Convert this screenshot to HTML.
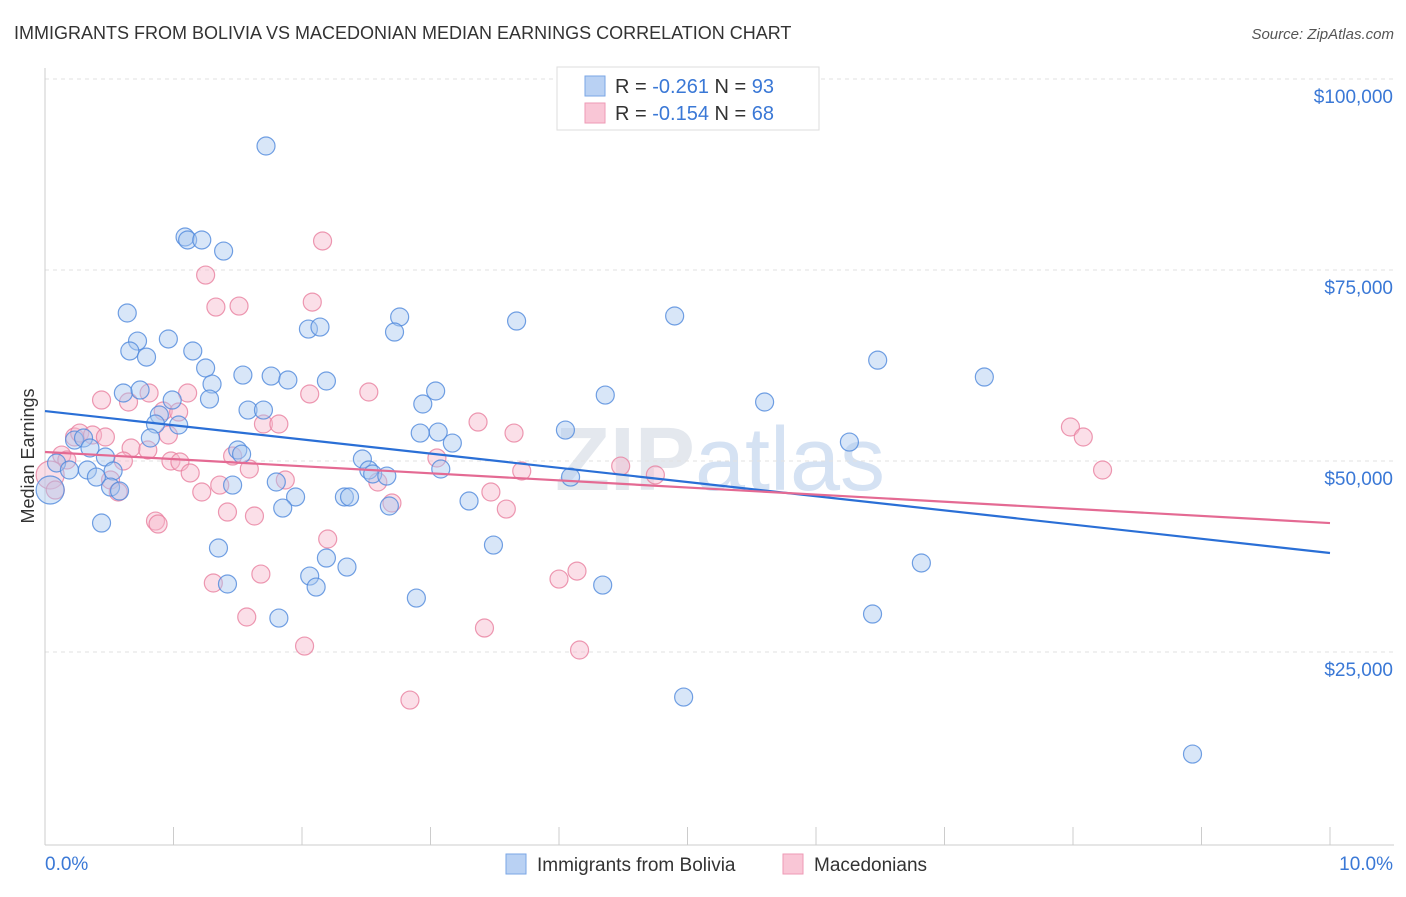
<!DOCTYPE html>
<html><head><meta charset="utf-8"><style>
body{margin:0;background:#fff;font-family:"Liberation Sans",sans-serif;}
svg text{font-family:"Liberation Sans",sans-serif;}
</style></head><body>
<svg id="chart" width="1406" height="892" xmlns="http://www.w3.org/2000/svg">
<text x="14" y="39" font-size="18" fill="#333">IMMIGRANTS FROM BOLIVIA VS MACEDONIAN MEDIAN EARNINGS CORRELATION CHART</text>
<text x="1394" y="39" font-size="15" fill="#555" text-anchor="end" font-style="italic">Source: ZipAtlas.com</text>
<text x="720" y="490" font-size="90" fill="#e4e8ee" text-anchor="middle" font-weight="bold">ZIP<tspan fill="#d5e2f3" font-weight="normal">atlas</tspan></text>
<g id="grid"></g>
<g id="axes"></g>
<g id="pts"></g>
<g id="trend"></g>
<text transform="translate(34,456) rotate(-90)" font-size="18" fill="#333" text-anchor="middle">Median Earnings</text>
<g>
<rect x="557" y="67" width="262" height="63" fill="#fff" stroke="#ddd"/>
<rect x="585" y="76" width="20" height="20" fill="#b9d1f3" stroke="#7aa6e6"/>
<rect x="585" y="103" width="20" height="20" fill="#f9c6d6" stroke="#ee9ab5"/>
<text x="615" y="93" font-size="20" fill="#333">R = <tspan fill="#3a78d6">-0.261</tspan>   N = <tspan fill="#3a78d6">93</tspan></text>
<text x="615" y="120" font-size="20" fill="#333">R = <tspan fill="#3a78d6">-0.154</tspan>   N = <tspan fill="#3a78d6">68</tspan></text>
</g>
<g>
<rect x="506" y="854" width="20" height="20" fill="#b9d1f3" stroke="#7aa6e6"/>
<text x="537" y="871" font-size="19" fill="#333">Immigrants from Bolivia</text>
<rect x="783" y="854" width="20" height="20" fill="#f9c6d6" stroke="#ee9ab5"/>
<text x="814" y="871" font-size="19" fill="#333">Macedonians</text>
</g>
</svg>
<script>
const yTicks=[25000,50000,75000,100000];
const yTickLabels=["$25,000","$50,000","$75,000","$100,000"];
const xTickLabels=["0.0%","10.0%"];
const blueX=[1.72,1.09,1.11,1.22,1.39,0.64,0.72,0.66,0.79,0.96,1.15,1.25,1.30,1.54,1.76,1.89,2.05,2.14,2.19,2.76,2.72,3.67,4.90,6.48,7.31,5.60,4.36,3.04,2.94,0.61,0.74,0.99,1.28,1.58,1.70,0.89,0.86,1.04,0.82,2.92,3.06,3.17,4.05,6.26,0.23,0.30,0.35,0.47,1.50,1.53,2.47,2.52,2.55,2.66,3.08,4.09,0.09,0.19,0.33,0.40,0.53,0.51,0.58,1.46,1.80,1.95,2.33,2.37,2.68,3.30,1.85,0.04,0.44,1.35,2.19,3.49,2.35,2.06,2.11,1.42,4.34,2.89,1.82,6.44,6.82,4.97,8.93];
const blueY=[91230,79320,78930,78930,77480,69370,65700,64400,63600,65970,64400,62170,60070,61250,61120,60600,67270,67530,60470,68850,66880,68320,68980,63200,60990,57720,58630,59160,57460,58900,59290,57980,58110,56670,56670,56020,54840,54710,53010,53660,53790,52350,54050,52480,52740,53010,51700,50520,51440,50900,50260,48820,48300,48030,48950,47900,49740,48820,48820,47900,48690,46590,46070,46850,47250,45290,45290,45290,44110,44760,43840,46200,41880,38610,37300,39000,36120,34940,33500,33900,33760,32060,29440,29970,36650,19100,11640];
const pinkX=[2.16,1.25,1.33,1.51,2.08,0.44,0.65,0.81,1.11,2.06,2.52,0.92,1.04,1.70,1.82,3.37,3.65,7.98,8.08,8.23,0.23,0.27,0.37,0.47,0.96,0.67,0.80,0.13,0.17,0.61,0.98,1.05,1.46,1.59,1.13,3.05,3.71,4.48,4.75,1.87,2.59,0.51,0.04,0.08,0.57,1.22,1.36,3.47,2.70,3.59,1.42,1.63,0.86,0.88,2.20,1.68,1.31,4.00,4.14,1.57,3.42,2.02,4.16,2.84];
const pinkY=[78800,74340,70150,70280,70800,57980,57720,58900,58900,58770,59030,56540,56410,54840,54840,55100,53660,54450,53140,48820,53140,53660,53400,53140,53400,51700,51440,50780,50130,50000,50000,49870,50650,48950,48430,50390,48690,49340,48170,47510,47250,47510,48170,46200,45940,45940,46850,45940,44500,43710,43320,42800,42140,41750,39790,35200,34030,34550,35590,29580,28140,25780,25260,18710];
const blueTrend=[56540,37960];
const pinkTrend=[51180,41880];
const NS="http://www.w3.org/2000/svg";
const X0=45,X1=1330,Y0=843,Y100=79;
const xs=v=>X0+(v/10)*(X1-X0);
const ys=v=>Y0-(v/100000)*(Y0-Y100);
function mk(tag,attrs,parent){const e=document.createElementNS(NS,tag);for(const k in attrs)e.setAttribute(k,attrs[k]);parent.appendChild(e);return e;}
const grid=document.getElementById('grid'),axes=document.getElementById('axes'),pts=document.getElementById('pts'),trend=document.getElementById('trend');
yTicks.forEach((t,i)=>{
 const l=mk('line',{x1:X0,x2:1394,y1:ys(t),y2:ys(t),stroke:'#e2e2e2','stroke-dasharray':'4,4'},grid);
 
 
 const tx=mk('text',{x:1393,y:ys(t)+24,'font-size':19,fill:'#3a78d6','text-anchor':'end'},grid);
 tx.textContent=yTickLabels[i];
 
 
});
const ax=mk('line',{x1:X0,x2:X0,y1:68,y2:845,stroke:'#ccc'},axes);


const bx=mk('line',{x1:X0,x2:1394,y1:845,y2:845,stroke:'#ccc'},axes);


for(let i=1;i<=10;i++){const t=mk('line',{x1:xs(i),x2:xs(i),y1:827,y2:845,stroke:'#ccc'},axes);
 
 }
[[0,'start',45],[10,'end',1393]].forEach((d,i)=>{const t=mk('text',{x:d[2],y:870,'font-size':19,fill:'#3a78d6','text-anchor':d[1]},axes);t.textContent=xTickLabels[i];
 
 });
function dots(X,Y,fill,stroke,name){X.forEach((x,i)=>{const r=(x<0.07)?14:9;const c=mk('circle',{cx:xs(x),cy:ys(Y[i]),r:r,fill:fill,'fill-opacity':0.45,stroke:stroke,'stroke-width':1.2,'stroke-opacity':0.8},pts);
 
 });}
dots(pinkX,pinkY,'#f7b7cb','#e8809f','macedonians-point');
dots(blueX,blueY,'#a9c7f0','#4f88dc','bolivia-point');
const tb=mk('line',{x1:xs(0),x2:xs(10),y1:ys(blueTrend[0]),y2:ys(blueTrend[1]),stroke:'#2a6fd6','stroke-width':2.2},trend);


const tp=mk('line',{x1:xs(0),x2:xs(10),y1:ys(pinkTrend[0]),y2:ys(pinkTrend[1]),stroke:'#e46a93','stroke-width':2.2},trend);


</script>
</body></html>
